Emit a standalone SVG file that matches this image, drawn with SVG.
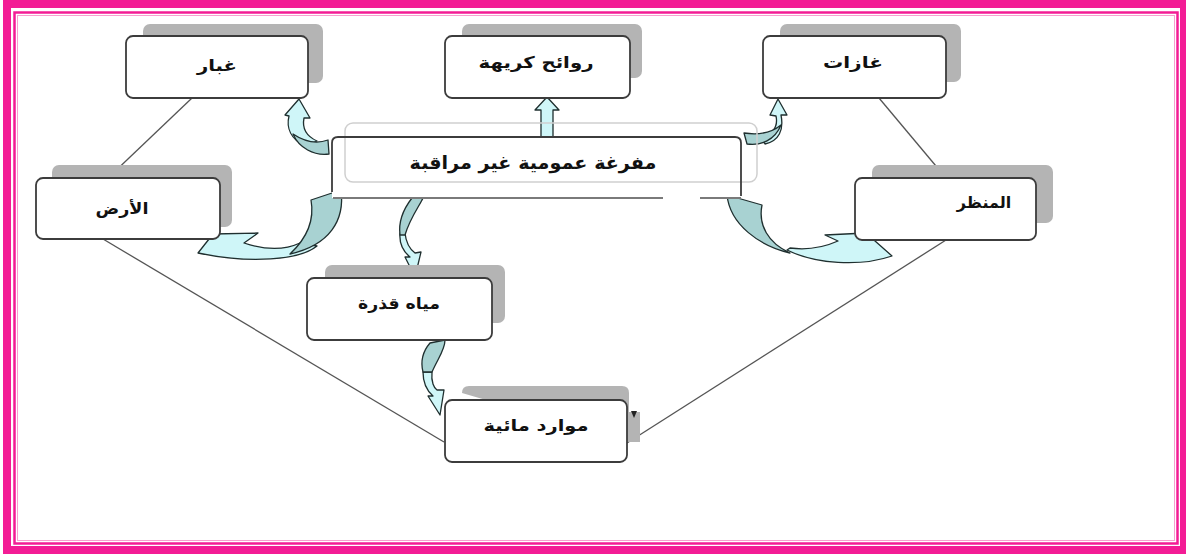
<svg xmlns="http://www.w3.org/2000/svg" width="1186" height="554" viewBox="0 0 1186 554">
<defs>
<style>
.shadow{fill:#b4b4b4}
.box{fill:#ffffff;stroke:#3c3c3c;stroke-width:1.8}
.lbl{font-family:"DejaVu Sans",sans-serif;font-weight:bold;font-size:16px;fill:#111;text-anchor:middle}
.line{stroke:#555;stroke-width:1.3;fill:none}
.front{fill:#cff6f8;stroke:#1f2f2f;stroke-width:1.3;stroke-linejoin:round}
.back{fill:#a8d2d2;stroke:#1f2f2f;stroke-width:1.3;stroke-linejoin:round}
</style>
</defs>
<rect x="0" y="0" width="1186" height="554" fill="#ffffff"/>
<g id="frame">
<rect x="7" y="4" width="1177" height="546" fill="none" stroke="#f31c95" stroke-width="8"/>
<rect x="14.5" y="12.5" width="1163" height="531" fill="none" stroke="#f31c95" stroke-width="2.5"/>
<rect x="17.5" y="15.5" width="1157" height="525" fill="none" stroke="#f7a0cf" stroke-width="1"/>
</g>
<g id="connectors">
<line class="line" x1="192" y1="98" x2="108" y2="178"/>
<line class="line" x1="103" y1="239" x2="444" y2="442"/>
<line class="line" x1="879" y1="98" x2="946" y2="178"/>
<line class="line" x1="946" y1="240" x2="627" y2="443"/>
<path class="front" d="M541,137 L541,110 L535,110 L547,97 L559,110 L553,110 L553,137 Z"/>
<path class="front" d="M305,146 C291,139 286,128 289,116 L285,115 L299,99 L310,118 L304,118 C302,128 306,136 317,141 Z"/>
<path class="back" d="M328,140 L329,154 C314,156 299,148 293,134 C305,142 317,144 328,140 Z"/>
<path class="front" d="M317,246 C300,260 250,264 198,253 L213,234 L258,233 L244,243 C265,250 285,250 300,243 Z"/>
<path class="back" d="M311,200 L341,190 C345,220 330,245 290,254 C305,240 315,222 311,200 Z"/>
<path class="front" d="M762,139 C775,133 778,125 776,116 L770,115 L778,99 L787,115 L781,115 C784,130 779,141 765,144 Z"/>
<path class="back" d="M744,133 L747,144 C761,146 775,140 781,125 C770,134 757,135 744,133 Z"/>
<path class="front" d="M787,250 C815,264 860,267 892,256 L866,233 L825,235 L838,241 C820,249 805,250 790,248 Z"/>
<path class="back" d="M727,195 L762,205 C758,225 768,243 790,253 C760,246 730,225 727,195 Z"/>
<path class="front" d="M400,233 L405,233 C406,243 411,250 415,253 L421,252 L415,277 L405,257 L410,257 C404,252 399,244 400,233 Z"/>
<path class="back" d="M412,198 L423,198 C420,205 410,218 405,235 L400,235 C398,220 405,207 412,198 Z"/>
<path class="front" d="M423,372 L432,372 C431,382 434,388 437,390 L444,390 L440,415 L428,396 L433,396 C426,390 423,382 423,372 Z"/>
<path class="back" d="M430,343 L445,340 C445,350 438,358 432,372 L423,372 C420,360 424,350 430,343 Z"/>
</g>
<g id="node-ghobar">
<rect class="shadow" x="143" y="24" width="180" height="59" rx="7"/>
<rect class="box" x="126" y="36" width="182" height="62" rx="7"/>
<text class="lbl" x="217" y="71" textLength="40" lengthAdjust="spacingAndGlyphs">غبار</text>
</g>
<g id="node-ard">
<rect class="shadow" x="52" y="165" width="180" height="62" rx="7"/>
<rect class="box" x="36" y="178" width="184" height="61" rx="7"/>
<text class="lbl" x="122" y="214" textLength="53" lengthAdjust="spacingAndGlyphs">الأرض</text>
</g>
<g id="node-rawaeh">
<rect class="shadow" x="462" y="24" width="180" height="54" rx="7"/>
<rect class="box" x="445" y="36" width="185" height="62" rx="7"/>
<text class="lbl" x="536" y="68" textLength="115" lengthAdjust="spacingAndGlyphs">روائح كريهة</text>
</g>
<g id="node-ghazat">
<rect class="shadow" x="780" y="24" width="181" height="58" rx="7"/>
<rect class="box" x="763" y="36" width="183" height="62" rx="7"/>
<text class="lbl" x="853" y="68" textLength="60" lengthAdjust="spacingAndGlyphs">غازات</text>
</g>
<g id="node-manthar">
<rect class="shadow" x="872" y="165" width="181" height="58" rx="7"/>
<rect class="box" x="855" y="178" width="181" height="62" rx="7"/>
<text class="lbl" x="984" y="208">المنظر</text>
</g>
<g id="node-center">
<path d="M332,198 L332,143 Q332,137 338,137 L735,137 Q741,137 741,143 L741,198 Z" fill="#ffffff"/>
<rect x="345" y="123" width="412" height="59" rx="8" fill="none" stroke="#cfcfcf" stroke-width="1.5"/>
<path d="M332,192 L332,143 Q332,137 338,137 L735,137 Q741,137 741,143 L741,196" fill="none" stroke="#3c3c3c" stroke-width="1.8"/>
<line x1="333" y1="198" x2="663" y2="198" stroke="#7a7a7a" stroke-width="2"/>
<line x1="700" y1="198" x2="741" y2="198" stroke="#7a7a7a" stroke-width="2"/>
<text class="lbl" x="533" y="169" style="font-size:18px" textLength="247" lengthAdjust="spacingAndGlyphs">مفرغة عمومية غير مراقبة</text>
</g>
<g id="node-miyah">
<rect class="shadow" x="325" y="265" width="180" height="58" rx="7"/>
<rect class="box" x="307" y="278" width="185" height="62" rx="7"/>
<text class="lbl" x="399" y="309" textLength="82" lengthAdjust="spacingAndGlyphs">مياه قذرة</text>
</g>
<g id="node-mawared">
<path class="shadow" d="M462,393 Q462,386 469,386 L622,386 Q629,386 629,393 L629,412 L640,412 L640,442 L629,442 Z"/>
<rect class="box" x="445" y="400" width="182" height="62" rx="7"/>
<path d="M631,411 L637,411 L634,418 Z" fill="#222"/>
<text class="lbl" x="536" y="431" textLength="105" lengthAdjust="spacingAndGlyphs">موارد مائية</text>
</g>
</svg>
